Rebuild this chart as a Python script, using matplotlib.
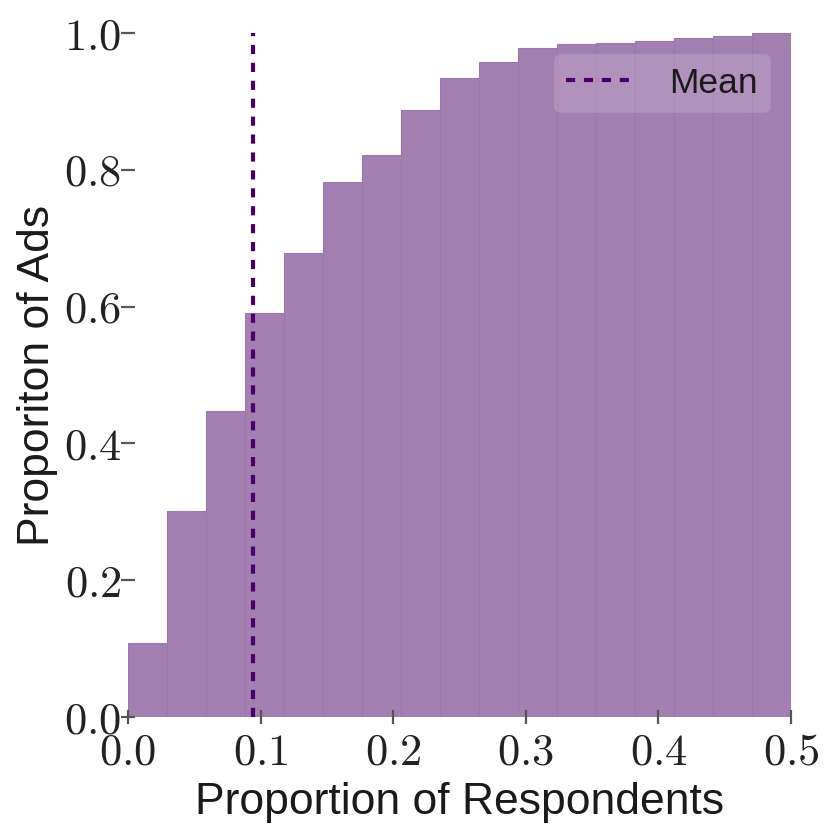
import matplotlib
matplotlib.use("Agg")
import matplotlib.pyplot as plt
from matplotlib.ticker import FuncFormatter
import numpy as np

# Data
bin_edges = list(np.linspace(0.0, 0.5, 18))
cum_props = [0.108, 0.301, 0.447, 0.591, 0.678, 0.782, 0.822, 0.887, 0.934,
             0.958, 0.978, 0.984, 0.985, 0.988, 0.993, 0.996, 1.0]
mean_value = 0.0943
x_ticks = [0.0, 0.1, 0.2, 0.3, 0.4, 0.5]
y_ticks = [0.0, 0.2, 0.4, 0.6, 0.8, 1.0]

plt.rcParams['mathtext.fontset'] = 'cm'
plt.rcParams['font.family'] = ['Liberation Sans', 'DejaVu Sans']

fig = plt.figure(figsize=(8.30, 8.33), dpi=100)
ax = fig.add_axes([128/830, 1-717/833, (791-128)/830, (717-33)/833])

lefts = np.array(bin_edges[:-1])
widths = np.diff(bin_edges)
ax.bar(lefts, cum_props, width=widths, align='edge', color='#a37fb2',
       edgecolor='#9c78ab', linewidth=0.8, zorder=1)
ax.axvline(mean_value, color='#4b0069', linestyle=(0, (2.2, 2.1)), linewidth=3.0,
           label='Mean', zorder=3)

ax.set_xlim(0, 0.5)
ax.set_ylim(0, 1.0)
ax.set_xticks(x_ticks)
ax.set_yticks(y_ticks)
fmt = FuncFormatter(lambda v, p: r'$%.1f$' % v)
ax.xaxis.set_major_formatter(fmt)
ax.yaxis.set_major_formatter(fmt)
for s in ax.spines.values():
    s.set_visible(False)
ax.tick_params(axis='both', direction='inout', length=10, width=1.6, color='#555555',
               labelsize=32, labelcolor='#222222')
ax.tick_params(axis='y', pad=0)
ax.tick_params(axis='x', pad=6)
ax.set_xlabel('Proportion of Respondents', fontsize=32, color='#1a1a1a', labelpad=6)
ax.set_ylabel('Proporiton of Ads', fontsize=32, color='#1a1a1a', labelpad=4)

leg = ax.legend(loc='upper right', fontsize=25.5, frameon=True, fancybox=True,
                framealpha=0.15, facecolor='white', edgecolor='#c8b0d2',
                handlelength=2.0, borderpad=0.35, handletextpad=0.9,
                borderaxespad=0.6)
for t in leg.get_texts():
    t.set_color('#1a1a1a')

fig.savefig('out.png', dpi=100)
